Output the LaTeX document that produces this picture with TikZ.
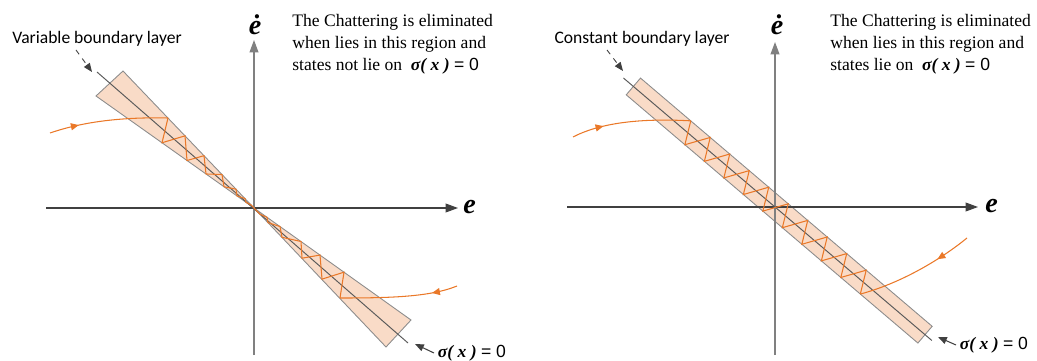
\documentclass[tikz,border=0pt]{standalone}
\usepackage{fontspec}
\setmainfont{Liberation Serif}
\setsansfont{Liberation Sans}
\newfontfamily\calloutfont{Carlito}
\usetikzlibrary{arrows.meta, decorations.markings, calc}
\definecolor{LayerFill}{RGB}{249,219,199}
\definecolor{LayerEdge}{RGB}{140,140,140}
\definecolor{TrajOrange}{RGB}{234,120,40}
\definecolor{AxisGray}{RGB}{64,64,64}
\definecolor{VAxisGray}{RGB}{128,128,128}
\definecolor{SurfaceGray}{RGB}{90,90,90}

\begin{document}
\begin{tikzpicture}[x=0.02cm, y=-0.02cm,
  layer/.style={fill=LayerFill, draw=LayerEdge, line width=0.5pt},
  haxis/.style={draw=AxisGray, line width=0.6pt, -{Triangle[length=7pt,width=5pt]}},
  vaxis/.style={draw=VAxisGray, line width=0.7pt, -{Triangle[length=7pt,width=5pt]}},
  surface/.style={draw=SurfaceGray, line width=0.55pt},
  traj/.style={TrajOrange, line width=0.6pt},
  incoming/.style={traj, postaction={decorate, decoration={markings,
      mark=at position #1 with {\arrow{Triangle[length=4.5pt,width=4pt]}}}}},
  callout/.style={draw=AxisGray, dashed, line width=0.5pt, -{Triangle[length=5pt,width=4pt]}},
  pointer/.style={draw=AxisGray, line width=0.6pt, -{Triangle[length=5pt,width=4pt]}},
  note/.style={font=\fontsize{10}{12.5}\selectfont, align=left, anchor=north west, inner sep=0pt},
  layerlabel/.style={font=\calloutfont\fontsize{10}{12}\selectfont, inner sep=1pt},
  axislabel/.style={font=\fontsize{16}{16}\selectfont\bfseries\itshape, inner sep=0pt},
  siglabel/.style={font=\fontsize{10}{12}\selectfont, inner sep=2pt, anchor=west},
]
\useasboundingbox (0,0) rectangle (1037,361);

% ---------------- left: variable boundary layer ----------------
\coordinate (O1) at (254,208);
\filldraw[layer] (O1) -- (123,71) -- (96,96) -- cycle;
\filldraw[layer] (O1) -- (411,320) -- (386,347) -- cycle;
\draw[haxis] (46,208) -- (458,208);
\draw[vaxis] (254,355) -- (254,40);
\draw[surface] (97,72) -- (408,343);

% trajectories
\draw[incoming=0.25] (50,133) .. controls (85,121) and (125,117) .. (168,118);
\draw[traj] (168,118)
  \foreach \tb/\ta in {92/69,67/50,48/32,30/18,17/9,8/3}
    { -- ({254-\tb},{208-0.709*\tb}) -- ({254-\ta},{208-1.046*\ta}) } -- (O1);
\draw[incoming=0.22] (457,286) .. controls (430,297) and (390,298) .. (340,298);
\draw[traj] (340,298)
  \foreach \tb/\ta in {90/68,66/48,47/28,26/14,13/6}
    { -- ({254+\tb},{208+0.713*\tb}) -- ({254+\ta},{208+1.046*\ta}) } -- (O1);

\node[axislabel] (edotL) at (255,25) {ė};
\node[axislabel, anchor=west] (eL) at (463,207) {e};
\node[layerlabel] (varlabel) at (97,39) {Variable boundary layer};
\coordinate (varTail) at (76,50);
\coordinate (varTip) at (92,72);
\draw[callout] (varTail) -- (varTip);
\node[note] (noteL) at (292,14) {The Chattering is eliminated\\
  when lies in this region and\\
  states not lie on \ {\bfseries\itshape σ( x )} {\sffamily = 0}};
\node[siglabel] (sigL) at (434,353) {{\bfseries\itshape σ( x )} {\sffamily = 0}};
\coordinate (sigLtip) at (415,344);
\draw[pointer] (sigL.west) -- (sigLtip);

% ---------------- right: constant boundary layer ----------------
\coordinate (O2) at (775,207);
\begin{scope}[shift={(O2)}, rotate=-40.4]
  \filldraw[layer] (-186,-11) rectangle (197,11);
\end{scope}
\draw[haxis] (567,207) -- (978,207);
\draw[vaxis] (775,355) -- (775,42);
\begin{scope}[shift={(O2)}, rotate=-40.4]
  \draw[surface] (-199,0) -- (206,0);
  \coordinate (bandIn) at (-120,-11);
  \coordinate (bandOut) at (121.4,11);
  \draw[traj] (bandIn)
    \foreach \k in {0,...,8}
      { -- ({-109+25.6*\k},11) -- ({-94.4+25.6*\k},-11) } -- (bandOut);
\end{scope}
\draw[incoming=0.27] (573,137) .. controls (600,123) and (640,118) .. (bandIn);
\draw[incoming=0.3] (967,238) .. controls (945,256) and (905,282) .. (bandOut);

\node[axislabel] (edotR) at (777,25) {ė};
\node[axislabel, anchor=west] (eR) at (985,206) {e};
\node[layerlabel] (conlabel) at (642,39) {Constant boundary layer};
\coordinate (conTail) at (607,50);
\coordinate (conTip) at (623,71);
\draw[callout] (conTail) -- (conTip);
\node[note] (noteR) at (830,14) {The Chattering is eliminated\\
  when lies in this region and\\
  states lie on \ {\bfseries\itshape σ( x )} {\sffamily = 0}};
\node[siglabel] (sigR) at (956,345) {{\bfseries\itshape σ( x )} {\sffamily = 0}};
\coordinate (sigRtip) at (938,337);
\draw[pointer] (sigR.west) -- (sigRtip);
\end{tikzpicture}
\end{document}
